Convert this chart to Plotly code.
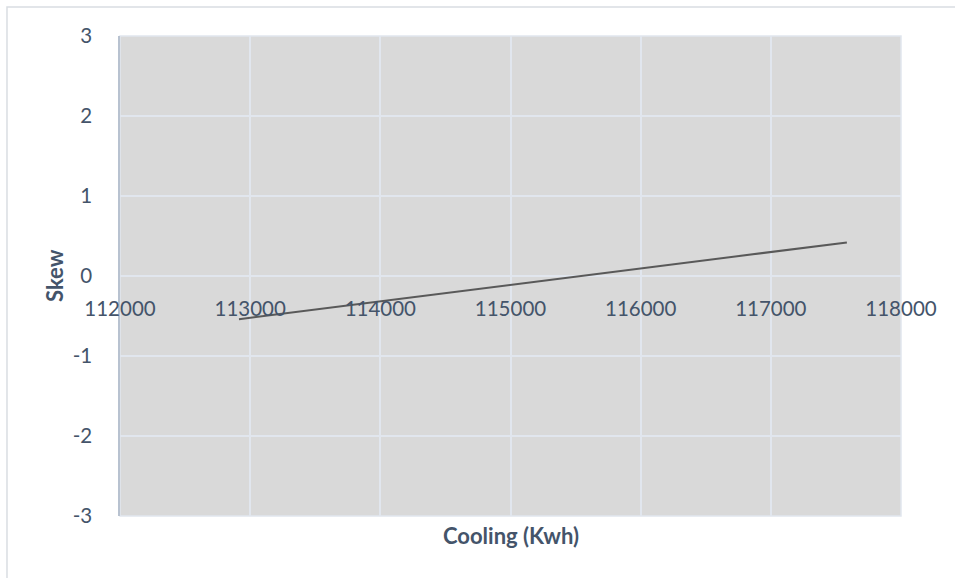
import plotly.graph_objects as go

# Cooling energy vs. skew
cooling_kwh = [112914, 117584]
skew = [-0.54, 0.42]

x_ticks = [112000, 113000, 114000, 115000, 116000, 117000, 118000]
y_ticks = [-3, -2, -1, 0, 1, 2, 3]

text_color = "#44546A"
grid_color = "#E1E6EE"

fig = go.Figure()
fig.add_trace(go.Scatter(
    x=cooling_kwh, y=skew, mode="lines",
    line=dict(color="#595959", width=2),
    showlegend=False, hoverinfo="skip",
))

fig.update_layout(
    width=955, height=578,
    margin=dict(l=120, r=54, t=36, b=62),
    paper_bgcolor="white",
    plot_bgcolor="#D9D9D9",
    font=dict(family="Lato, Carlito, Calibri, sans-serif", color=text_color, size=20),
    xaxis=dict(
        range=[x_ticks[0], x_ticks[-1]],
        tickvals=x_ticks, ticktext=[str(v) for v in x_ticks],
        showgrid=True, gridcolor=grid_color, gridwidth=1.5,
        zeroline=False, showline=False, ticks="",
        anchor="free", position=0.5,
        ticklabelstandoff=18,
        tickfont=dict(size=20.5, color=text_color),
    ),
    yaxis=dict(
        range=[y_ticks[0], y_ticks[-1]],
        tickvals=y_ticks, ticktext=[str(v) for v in y_ticks],
        showgrid=True, gridcolor=grid_color, gridwidth=1.5,
        zeroline=False, showline=True, linecolor="#B8C2D0", linewidth=1.5,
        ticks="", ticklabelstandoff=22,
        tickfont=dict(size=20.5, color=text_color),
    ),
    shapes=[
        # outer chart frame
        dict(type="rect", xref="paper", yref="paper",
             x0=-0.1447, x1=1.2, y0=-0.3, y1=1.0604,
             line=dict(color="#D9DDE2", width=1.5), fillcolor="rgba(0,0,0,0)",
             layer="below"),
        # light border around plot area
        dict(type="rect", xref="paper", yref="paper",
             x0=0, x1=1, y0=0, y1=1,
             line=dict(color=grid_color, width=1.5), fillcolor="rgba(0,0,0,0)",
             layer="below"),
    ],
    annotations=[
        dict(text="<b>Cooling (Kwh)</b>", xref="paper", yref="paper",
             x=0.5, y=-0.04, xanchor="center", yanchor="middle",
             showarrow=False, font=dict(size=22, color=text_color)),
        dict(text="<b>Skew</b>", xref="paper", yref="paper",
             x=-0.0845, y=0.5, xanchor="center", yanchor="middle",
             textangle=-90, showarrow=False,
             font=dict(size=22, color=text_color)),
    ],
)

fig.write_html("out.html")
